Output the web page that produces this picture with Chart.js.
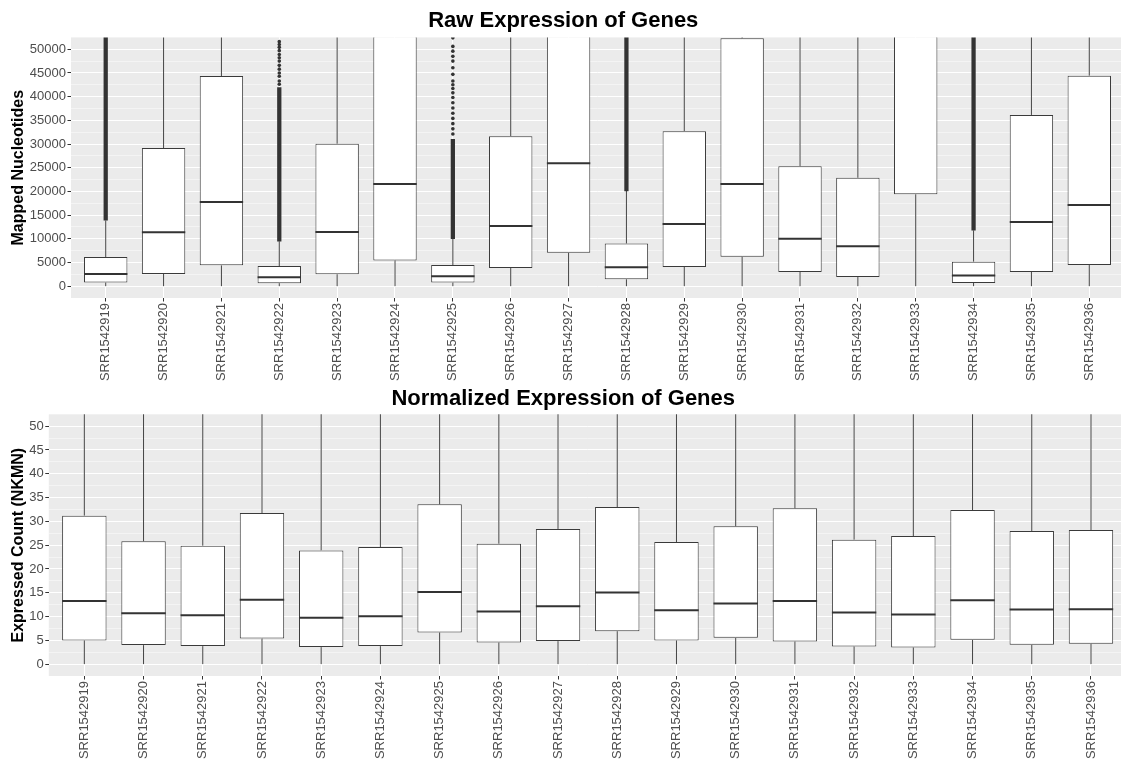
<!DOCTYPE html>
<html><head><meta charset="utf-8">
<script src="https://cdn.jsdelivr.net/npm/chart.js@4.4.1/dist/chart.umd.min.js"></script>
<style>
html,body{margin:0;padding:0;background:#fff;overflow:hidden;width:1121px;height:761px;position:relative;}
#c1{position:absolute;left:0;top:0;}
#c2{position:absolute;left:0;top:384px;}
</style></head><body>
<canvas id="c1" width="1128" height="384"></canvas>
<canvas id="c2" width="1128" height="377"></canvas>
<script>
// ---------- data ----------
const categories = ['SRR1542919','SRR1542920','SRR1542921','SRR1542922','SRR1542923','SRR1542924',
  'SRR1542925','SRR1542926','SRR1542927','SRR1542928','SRR1542929','SRR1542930',
  'SRR1542931','SRR1542932','SRR1542933','SRR1542934','SRR1542935','SRR1542936'];

// Raw expression (Mapped Nucleotides) – values above 52500 lie outside the visible panel
const rawLower  = [0, 0, 0, 0, 0, 0, 0, 0, 0, 0, 0, 0, 0, 0, 0, 0, 0, 0];
const rawQ1     = [770, 2570, 4390, 630, 2510, 5440, 770, 3830, 7050, 1460, 4040, 6210, 2990, 1950, 19390, 690, 2990, 4460];
const rawMedian = [2570, 11360, 17780, 1880, 11440, 21550, 2090, 12700, 25940, 3970, 13120, 21550, 9980, 8430, 60000, 2240, 13540, 17150];
const rawQ3     = [6130, 29140, 44350, 4250, 30060, 70000, 4460, 31650, 75000, 9000, 32700, 52300, 25310, 22870, 110000, 5170, 36130, 44420];
const rawUpper  = [13870, 69000, 104000, 9480, 71000, 165000, 9980, 73000, 180000, 20080, 75000, 121000, 58800, 54300, 250000, 11780, 85800, 104400];
// dense runs of outliers (drawn as a solid column) and isolated outliers
const rawOutlierRunFrom = [13900, null, null, 9500, null, null, 10000, null, null, 20100, null, null, null, null, null, 11800, null, null];
const rawOutlierRunTo   = [60000, null, null, 41900, null, null, 31000, null, null, 60000, null, null, null, null, null, 60000, null, null];
const rawOutliersSRR1542922 = [42600, 43300, 44300, 45000, 45800, 46600, 47500, 48200, 48900, 49700, 50400, 51000, 51600];
const rawOutliersSRR1542925 = [32100, 33200, 34300, 35400, 36500, 37600, 38700, 39800, 40800, 41700, 42500, 43300, 44700, 46100, 47500, 48500, 49600, 50600, 52400];

// Normalized expression (Expressed Count, NKMN)
const normLower  = [0, 0, 0, 0, 0, 0, 0, 0, 0, 0, 0, 0, 0, 0, 0, 0, 0, 0];
const normQ1     = [4.97, 3.99, 3.78, 5.38, 3.57, 3.78, 6.65, 4.55, 4.83, 6.92, 4.97, 5.52, 4.76, 3.71, 3.50, 5.10, 4.06, 4.27];
const normMedian = [13.28, 10.70, 10.28, 13.50, 9.72, 10.07, 15.17, 11.05, 12.17, 15.03, 11.33, 12.73, 13.28, 10.84, 10.42, 13.43, 11.47, 11.54];
const normQ3     = [31.20, 25.80, 24.90, 31.75, 23.90, 24.60, 33.57, 25.30, 28.40, 33.00, 25.66, 28.95, 32.73, 26.15, 26.90, 32.38, 27.97, 28.18];
const normUpper  = [70, 59, 57, 71, 55, 56, 74, 57, 64, 73, 57, 64, 75, 60, 62, 73, 64, 64];

// tick labels
const rawTickLabels  = [0, 5000, 10000, 15000, 20000, 25000, 30000, 35000, 40000, 45000, 50000];
const normTickLabels = [0, 5, 10, 15, 20, 25, 30, 35, 40, 45, 50];

// ---------- drawing ----------
const FONT = '"Liberation Sans", Arial, Helvetica, sans-serif';
Chart.defaults.font.family = FONT;
const HALF = 0.375;
const DARK = '#333333';

function buildDatasets(lower, q1, med, q3, upper, runFrom, runTo, sparse) {
  const boxes = categories.map((c, i) => ({x: i, y: [q1[i], q3[i]]}));
  const whiskers = [];
  const medians = [];
  categories.forEach((c, i) => {
    whiskers.push({x: i, y: lower[i]}, {x: i, y: q1[i]}, {x: i, y: null},
                  {x: i, y: q3[i]}, {x: i, y: upper[i]}, {x: i, y: null});
    medians.push({x: i - HALF, y: med[i]}, {x: i + HALF, y: med[i]}, {x: i + HALF, y: null});
  });
  const runs = [];
  if (runFrom) runFrom.forEach((f, i) => { if (f != null) runs.push({x: i, y: [f, runTo[i]]}); });
  const pts = [];
  sparse.forEach(s => s.values.forEach(v => pts.push({x: s.index, y: v})));
  return [
    {type: 'line', label: 'outliers', data: pts, showLine: false, pointRadius: 1.8,
     pointBackgroundColor: DARK, pointBorderWidth: 0, order: 0, clip: 0},
    {type: 'bar', label: 'outlier runs', data: runs, backgroundColor: DARK, borderWidth: 0,
     barThickness: 3.6, grouped: false, order: 1, clip: 0},
    {type: 'line', label: 'median', data: medians, borderColor: DARK, borderWidth: 2,
     pointRadius: 0, spanGaps: false, order: 2, clip: 0},
    {type: 'bar', label: 'box', data: boxes, backgroundColor: '#ffffff', borderColor: '#3a3a3a',
     borderWidth: 1, borderSkipped: false, barPercentage: 0.75, categoryPercentage: 1,
     grouped: false, order: 3, clip: 0},
    {type: 'line', label: 'whiskers', data: whiskers, borderColor: '#444444', borderWidth: 1,
     pointRadius: 0, spanGaps: false, order: 4, clip: 0}
  ];
}

const panelBg = {
  id: 'panelBg',
  beforeDraw(chart) {
    const {ctx, chartArea: a} = chart;
    ctx.save();
    ctx.fillStyle = '#ebebeb';
    ctx.fillRect(a.left, a.top, a.right - a.left, a.bottom - a.top);
    ctx.restore();
  }
};

function makeChart(id, opts) {
  const isMajor = v => opts.tickLabels.some(t => Math.abs(t - v) < 1e-6);
  return new Chart(document.getElementById(id), {
    type: 'bar',
    data: {datasets: opts.datasets},
    plugins: [panelBg],
    options: {
      responsive: false, animation: false, devicePixelRatio: 1,
      layout: {padding: {left: 0, right: 1.5, top: 0, bottom: 0}},
      plugins: {
        legend: {display: false}, tooltip: {enabled: false},
        title: {display: true, text: opts.title, color: '#000',
                font: {size: 22, weight: 'bold', family: FONT},
                padding: opts.titlePad}
      },
      scales: {
        x: {
          type: 'linear', min: -0.6, max: 17.6, offset: false,
          afterFit(s) { s.height = opts.xHeight; },
          ticks: {stepSize: 1, includeBounds: false, autoSkip: false,
                  minRotation: 90, maxRotation: 90, padding: 1.5,
                  color: '#4d4d4d', font: {size: 13, family: FONT},
                  callback: v => categories[v] ?? ''},
          grid: {offset: false, color: '#ffffff', lineWidth: 1, tickColor: DARK, tickLength: 3.5},
          border: {display: false}
        },
        y: {
          type: 'linear', min: opts.min, max: opts.max,
          afterFit(s) { s.width = opts.yWidth; },
          title: {display: true, text: opts.yTitle, color: '#000',
                  font: {size: 16, weight: 'bold', family: FONT},
                  padding: {top: opts.yTitlePad, bottom: 0}},
          ticks: {stepSize: opts.step, includeBounds: false, autoSkip: false, padding: 1.5,
                  color: '#4d4d4d', font: {size: 13, family: FONT},
                  callback: v => isMajor(v) ? String(v) : ''},
          grid: {
            offset: false,
            color: c => (c.tick && isMajor(c.tick.value)) ? '#ffffff' :
                        (c.tick && c.tick.value > opts.min && c.tick.value < opts.max ? 'rgba(255,255,255,0.75)' : 'rgba(0,0,0,0)'),
            lineWidth: c => (c.tick && isMajor(c.tick.value)) ? 1 : 0.6,
            tickColor: c => (c.tick && isMajor(c.tick.value)) ? DARK : 'rgba(0,0,0,0)',
            tickLength: 3.5
          },
          border: {display: false}
        }
      }
    }
  });
}

makeChart('c1', {
  title: 'Raw Expression of Genes',
  titlePad: {top: 7.8, bottom: 3.2},
  yTitle: 'Mapped Nucleotides', yTitlePad: 9.4,
  min: -2500, max: 52500, step: 2500, tickLabels: rawTickLabels,
  xHeight: 86, yWidth: 71,
  datasets: buildDatasets(rawLower, rawQ1, rawMedian, rawQ3, rawUpper,
    rawOutlierRunFrom, rawOutlierRunTo,
    [{index: 3, values: rawOutliersSRR1542922}, {index: 6, values: rawOutliersSRR1542925}])
});

makeChart('c2', {
  title: 'Normalized Expression of Genes',
  titlePad: {top: 1.7, bottom: 2.2},
  yTitle: 'Expressed Count (NKMN)', yTitlePad: 8.7,
  min: -2.5, max: 52.5, step: 2.5, tickLabels: normTickLabels,
  xHeight: 85, yWidth: 48.8,
  datasets: buildDatasets(normLower, normQ1, normMedian, normQ3, normUpper, null, null, [])
});
</script>
</body></html>
